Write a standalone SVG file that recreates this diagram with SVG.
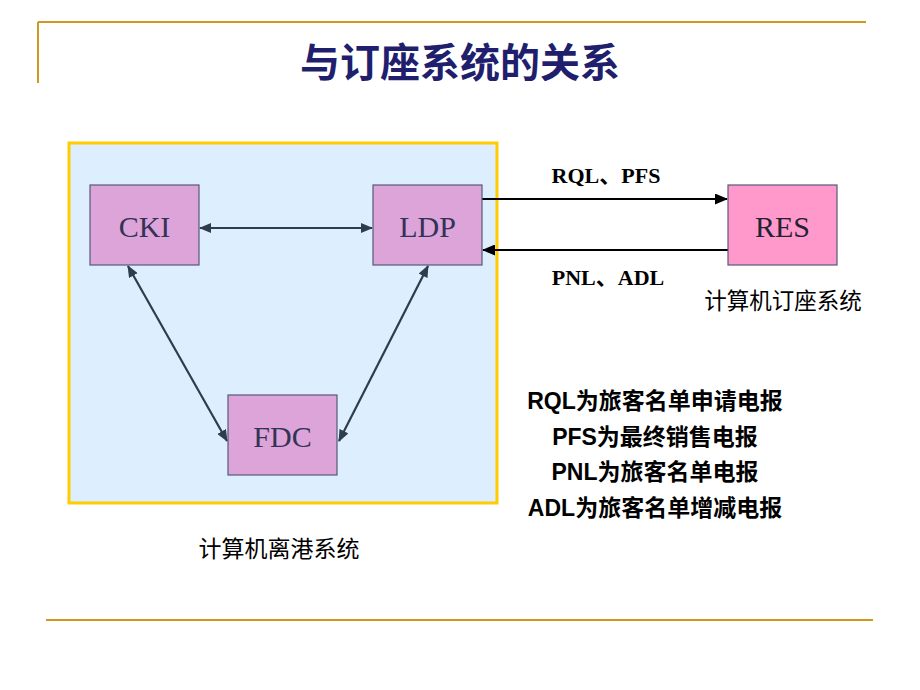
<svg xmlns="http://www.w3.org/2000/svg" width="920" height="690" viewBox="0 0 920 690">
<defs>
<style>
.rule{stroke:#CC9A1E;stroke-width:2;fill:none}
.node{fill:#DDA4DA;stroke:#555A77;stroke-width:1.2}
.lbl{font-family:"Liberation Serif","Times New Roman",serif;font-size:30px;fill:#333355;text-anchor:middle}
.cn{font-family:"Noto Sans CJK SC",sans-serif;fill:#000}
.def{font-family:"Liberation Sans","Noto Sans CJK SC",sans-serif;font-weight:bold;font-size:23px;fill:#000;text-anchor:middle}
.msg{font-family:"Liberation Serif","Noto Sans CJK SC",serif;font-weight:bold;font-size:22px;fill:#000;text-anchor:middle}
.inner{stroke:#2E3D4C;stroke-width:2.2;fill:none}
.ext{stroke:#000;stroke-width:2;fill:none}
</style>
<marker id="ah" viewBox="0 0 12 10" refX="11" refY="5" markerWidth="12" markerHeight="10" markerUnits="userSpaceOnUse" orient="auto-start-reverse">
<path d="M0,0 L12,5 L0,10 z" fill="#2E3D4C"/>
</marker>
<marker id="ahk" viewBox="0 0 13 11" refX="12" refY="5.5" markerWidth="13" markerHeight="11" markerUnits="userSpaceOnUse" orient="auto">
<path d="M0,0 L13,5.5 L0,11 z" fill="#000"/>
</marker>
</defs>
<rect width="920" height="690" fill="#fff"/>
<g id="frame">
<line class="rule" x1="38" y1="22" x2="866" y2="22"/>
<line class="rule" x1="38" y1="22" x2="38" y2="83"/>
<line class="rule" x1="46" y1="620" x2="873" y2="620"/>
</g>
<text x="460" y="77" class="cn" font-size="40" font-weight="bold" text-anchor="middle" style="fill:#1F1F6E">与订座系统的关系</text>
<g id="dcs">
<rect x="69" y="143" width="428" height="360" fill="#DDEEFF" stroke="#FFCC00" stroke-width="3"/>
<text x="279" y="557" class="cn" font-size="23" text-anchor="middle">计算机离港系统</text>
</g>
<g id="connectors">
<line class="inner" x1="200" y1="228" x2="372" y2="228" marker-start="url(#ah)" marker-end="url(#ah)"/>
<line class="inner" x1="128" y1="266" x2="227" y2="441" marker-start="url(#ah)" marker-end="url(#ah)"/>
<line class="inner" x1="428" y1="266" x2="339" y2="441" marker-start="url(#ah)" marker-end="url(#ah)"/>
<line class="ext" x1="482" y1="199" x2="727" y2="199" marker-end="url(#ahk)"/>
<line class="ext" x1="728" y1="250" x2="483" y2="250" marker-end="url(#ahk)"/>
<text x="606" y="183" class="msg">RQL、PFS</text>
<text x="608" y="285" class="msg">PNL、ADL</text>
</g>
<g id="CKI">
<rect class="node" x="90" y="185" width="109" height="80"/>
<text class="lbl" x="144.5" y="237">CKI</text>
</g>
<g id="LDP">
<rect class="node" x="373" y="185" width="109" height="80"/>
<text class="lbl" x="427.5" y="237">LDP</text>
</g>
<g id="FDC">
<rect class="node" x="228" y="395" width="109" height="80"/>
<text class="lbl" x="282.5" y="447">FDC</text>
</g>
<g id="RES">
<rect x="728" y="185" width="109" height="80" fill="#FF99CC" stroke="#555A77" stroke-width="1.2"/>
<text class="lbl" x="782.5" y="237" style="fill:#222233">RES</text>
<text x="783" y="309" class="cn" font-size="22.5" text-anchor="middle">计算机订座系统</text>
</g>
<g id="legend">
<text class="def" x="655" y="409">RQL为旅客名单申请电报</text>
<text class="def" x="655" y="445">PFS为最终销售电报</text>
<text class="def" x="655" y="480">PNL为旅客名单电报</text>
<text class="def" x="655" y="516">ADL为旅客名单增减电报</text>
</g>
</svg>
